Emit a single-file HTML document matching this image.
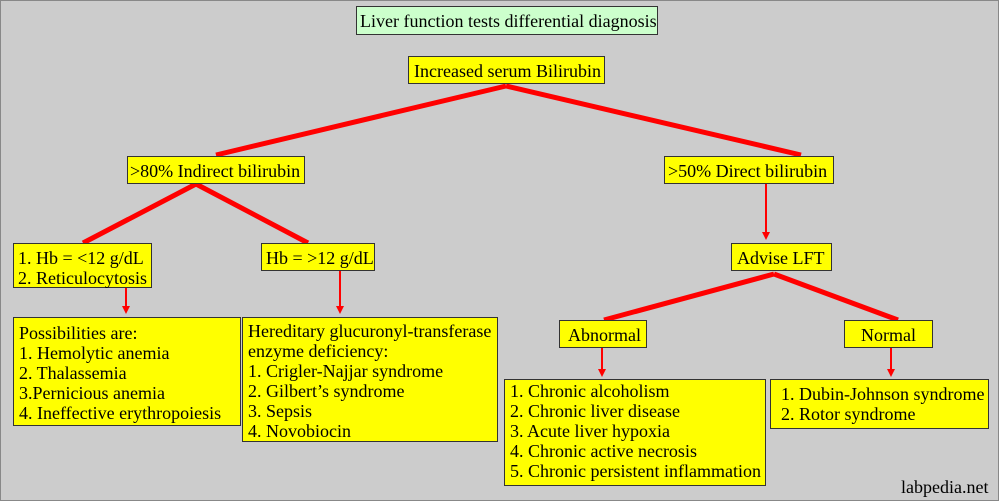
<!DOCTYPE html>
<html><head><style>
body{margin:0;}
#c{position:relative;width:997px;height:499px;background:#cccccc;border:1px solid #888;overflow:hidden;font-family:"Liberation Serif",serif;font-size:18px;color:#000;}
.b{position:absolute;background:#ffff00;border:1px solid #333;box-sizing:border-box;padding:4px 5px 0 5px;line-height:20px;white-space:nowrap;}
svg{position:absolute;left:0;top:0;}
</style></head><body><div id="c">
<svg width="999" height="501">
<defs><marker id="a" markerWidth="8" markerHeight="8" refX="4" refY="4" orient="auto" markerUnits="userSpaceOnUse"><path d="M0,0 L8,4 L0,8 z" fill="#ff0000"/></marker></defs>
<g stroke="#ff0000" stroke-width="5" fill="none">
<line x1="505" y1="85" x2="215" y2="154"/>
<line x1="505" y1="85" x2="800" y2="154"/>
<line x1="195" y1="183" x2="82" y2="242"/>
<line x1="195" y1="183" x2="307" y2="242"/>
<line x1="773" y1="273" x2="603" y2="319"/>
<line x1="773" y1="273" x2="897" y2="319"/>
</g>
<g stroke="#ff0000" stroke-width="2" fill="none">
<line x1="125" y1="287" x2="125" y2="309" marker-end="url(#a)"/>
<line x1="339" y1="270" x2="339" y2="309" marker-end="url(#a)"/>
<line x1="765" y1="183" x2="765" y2="235" marker-end="url(#a)"/>
<line x1="601" y1="347" x2="601" y2="372" marker-end="url(#a)"/>
<line x1="890" y1="347" x2="890" y2="372" marker-end="url(#a)"/>
</g>
</svg>
<div class="b" style="left:355px;top:5px;width:302px;height:29px;background:#ccffcc;padding-left:3px">Liver function tests differential diagnosis</div>
<div class="b" style="left:407px;top:55px;width:197px;height:28px;">Increased serum Bilirubin</div>
<div class="b" style="left:126px;top:155px;width:178px;height:28px;padding-left:2px">&gt;80% Indirect bilirubin</div>
<div class="b" style="left:663px;top:155px;width:170px;height:28px;padding-left:3px">&gt;50% Direct bilirubin</div>
<div class="b" style="left:12px;top:242px;width:139px;height:45px;padding-left:4px">1. Hb = &lt;12 g/dL<br>2. Reticulocytosis</div>
<div class="b" style="left:260px;top:242px;width:114px;height:28px;padding-left:4px">Hb = &gt;12 g/dL</div>
<div class="b" style="left:730px;top:242px;width:101px;height:28px;">Advise LFT</div>
<div class="b" style="left:558px;top:319px;width:88px;height:28px;padding-left:8px">Abnormal</div>
<div class="b" style="left:843px;top:319px;width:89px;height:28px;padding-left:16px">Normal</div>
<div class="b" style="left:12px;top:316px;width:228px;height:109px;padding-top:5px">Possibilities are:<br>1. Hemolytic anemia<br>2. Thalassemia<br>3.Pernicious anemia<br>4. Ineffective erythropoiesis</div>
<div class="b" style="left:241px;top:316px;width:256px;height:125px;padding-top:3px">Hereditary glucuronyl-transferase<br>enzyme deficiency:<br>1. Crigler-Najjar syndrome<br>2. Gilbert’s syndrome<br>3. Sepsis<br>4. Novobiocin</div>
<div class="b" style="left:503px;top:378px;width:262px;height:107px;padding-top:1px">1. Chronic alcoholism<br>2. Chronic liver disease<br>3. Acute liver hypoxia<br>4. Chronic active necrosis<br>5. Chronic persistent inflammation</div>
<div class="b" style="left:769px;top:378px;width:219px;height:50px;padding-left:10px;padding-top:4px">1. Dubin-Johnson syndrome<br>2. Rotor syndrome</div>
<div style="position:absolute;left:900px;top:476px;line-height:20px;font-size:18px;">labpedia.net</div>
</div></body></html>
